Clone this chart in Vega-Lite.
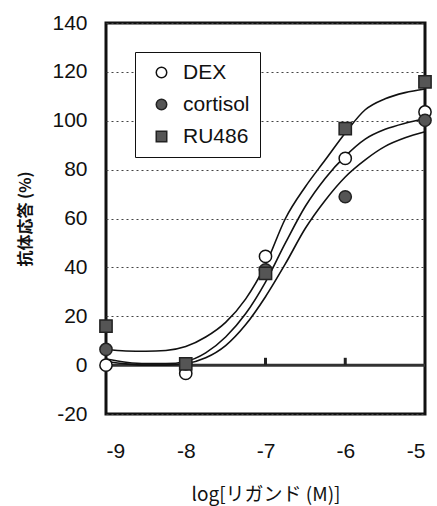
{
  "$schema": "https://vega.github.io/schema/vega-lite/v6.json",
  "autosize": "none",
  "padding": {"left": 106, "top": 23, "right": 12, "bottom": 92},
  "width": 319,
  "height": 391,
  "config": {
    "view": {"stroke": "#111", "strokeWidth": 3},
    "font": "Liberation Sans"
  },
  "datasets": {
    "points": [
      {"series": "DEX", "x": -9, "y": 0},
      {"series": "DEX", "x": -8, "y": -3.4},
      {"series": "DEX", "x": -7, "y": 44.5},
      {"series": "DEX", "x": -6, "y": 84.6},
      {"series": "DEX", "x": -5, "y": 103.6},
      {"series": "cortisol", "x": -9, "y": 6.4},
      {"series": "cortisol", "x": -8, "y": 0.5},
      {"series": "cortisol", "x": -7, "y": 39},
      {"series": "cortisol", "x": -6, "y": 68.9},
      {"series": "cortisol", "x": -5, "y": 100.2},
      {"series": "RU486", "x": -9, "y": 16},
      {"series": "RU486", "x": -8, "y": 0.5},
      {"series": "RU486", "x": -7, "y": 37.5},
      {"series": "RU486", "x": -6, "y": 96.8},
      {"series": "RU486", "x": -5, "y": 115.9}
    ],
    "curves": [
      {"curve": "A", "x": -9, "y": 6.4}, {"curve": "A", "x": -8.75, "y": 5.8}, {"curve": "A", "x": -8.5, "y": 5.7}, {"curve": "A", "x": -8.25, "y": 6.0}, {"curve": "A", "x": -8, "y": 7.6}, {"curve": "A", "x": -7.75, "y": 11.5}, {"curve": "A", "x": -7.5, "y": 17.5}, {"curve": "A", "x": -7.25, "y": 27}, {"curve": "A", "x": -7, "y": 41}, {"curve": "A", "x": -6.75, "y": 60}, {"curve": "A", "x": -6.5, "y": 73}, {"curve": "A", "x": -6.25, "y": 84}, {"curve": "A", "x": -6, "y": 95}, {"curve": "A", "x": -5.75, "y": 104.5}, {"curve": "A", "x": -5.5, "y": 109}, {"curve": "A", "x": -5.25, "y": 111.5}, {"curve": "A", "x": -5, "y": 113},
      {"curve": "B", "x": -9, "y": 2.5}, {"curve": "B", "x": -8.75, "y": 1.2}, {"curve": "B", "x": -8.5, "y": 0.6}, {"curve": "B", "x": -8.25, "y": 0.6}, {"curve": "B", "x": -8, "y": 1.5}, {"curve": "B", "x": -7.75, "y": 5}, {"curve": "B", "x": -7.5, "y": 11.5}, {"curve": "B", "x": -7.25, "y": 21}, {"curve": "B", "x": -7, "y": 34}, {"curve": "B", "x": -6.75, "y": 50}, {"curve": "B", "x": -6.5, "y": 65}, {"curve": "B", "x": -6.25, "y": 76.5}, {"curve": "B", "x": -6, "y": 85.5}, {"curve": "B", "x": -5.75, "y": 92.5}, {"curve": "B", "x": -5.5, "y": 96.5}, {"curve": "B", "x": -5.25, "y": 99}, {"curve": "B", "x": -5, "y": 100.8},
      {"curve": "C", "x": -9, "y": 1.5}, {"curve": "C", "x": -8.75, "y": 0.5}, {"curve": "C", "x": -8.5, "y": 0}, {"curve": "C", "x": -8.25, "y": 0}, {"curve": "C", "x": -8, "y": 0.6}, {"curve": "C", "x": -7.75, "y": 3}, {"curve": "C", "x": -7.5, "y": 8}, {"curve": "C", "x": -7.25, "y": 16.5}, {"curve": "C", "x": -7, "y": 28}, {"curve": "C", "x": -6.75, "y": 41.5}, {"curve": "C", "x": -6.5, "y": 56}, {"curve": "C", "x": -6.25, "y": 67.5}, {"curve": "C", "x": -6, "y": 77}, {"curve": "C", "x": -5.75, "y": 84}, {"curve": "C", "x": -5.5, "y": 89.5}, {"curve": "C", "x": -5.25, "y": 93}, {"curve": "C", "x": -5, "y": 95.5}
    ],
    "zero": [{"y": 0}],
    "ticks": [{"x": -8, "y": 0, "y2": 3}, {"x": -7, "y": 0, "y2": 3}, {"x": -6, "y": 0, "y2": 3}]
  },
  "layer": [
    {
      "data": {"name": "zero"},
      "mark": {"type": "rule", "stroke": "#333", "strokeWidth": 3},
      "encoding": {
        "y": {
          "field": "y", "type": "quantitative",
          "scale": {"domain": [-20, 140], "nice": false, "zero": false},
          "axis": {
            "values": [-20, 0, 20, 40, 60, 80, 100, 120, 140],
            "labelExpr": "datum.value + ''",
            "tickSize": 0, "domain": false,
            "labelFontSize": 21, "labelColor": "#111", "labelPadding": 19,
            "grid": true, "gridDash": [2, 3], "gridColor": "#444", "gridWidth": 1,
            "title": "抗体応答 (%)", "titleFont": "Noto Sans CJK JP", "titleFontSize": 16,
            "titleFontWeight": "bold", "titleColor": "#111", "titlePadding": 18
          }
        }
      }
    },
    {
      "data": {"name": "ticks"},
      "mark": {"type": "rule", "stroke": "#222", "strokeWidth": 3},
      "encoding": {
        "x": {"field": "x", "type": "quantitative"},
        "y": {"field": "y", "type": "quantitative"},
        "y2": {"field": "y2"}
      }
    },
    {
      "data": {"name": "curves"},
      "mark": {"type": "line", "interpolate": "monotone", "stroke": "#111", "strokeWidth": 1.6},
      "encoding": {
        "x": {"field": "x", "type": "quantitative"},
        "y": {"field": "y", "type": "quantitative"},
        "detail": {"field": "curve"}
      }
    },
    {
      "data": {"name": "points"},
      "mark": {"type": "point", "filled": true, "size": 150, "strokeWidth": 1.5, "opacity": 1},
      "encoding": {
        "x": {
          "field": "x", "type": "quantitative",
          "scale": {"domain": [-9, -5], "nice": false, "zero": false},
          "axis": {
            "values": [-9, -8, -7, -6, -5],
            "labelExpr": "datum.value + ''",
            "tickSize": 0, "domain": false, "grid": false,
            "labelFontSize": 21, "labelColor": "#111", "labelPadding": 26,
            "title": "log[リガンド (M)]", "titleFont": "Noto Sans CJK JP", "titleFontSize": 19,
            "titleFontWeight": "normal", "titleColor": "#111", "titlePadding": 24
          }
        },
        "y": {"field": "y", "type": "quantitative"},
        "shape": {
          "field": "series", "type": "nominal",
          "scale": {"domain": ["DEX", "cortisol", "RU486"], "range": ["circle", "circle", "square"]},
          "legend": {
            "title": null, "orient": "none", "legendX": 29, "legendY": 29,
            "padding": 10, "symbolOffset": 6, "symbolSize": 110, "symbolStrokeWidth": 1.5,
            "labelFontSize": 21, "labelColor": "#111", "labelOffset": 11, "rowPadding": 10,
            "labelExpr": "datum.label + '\u00a0\u00a0\u00a0'",
            "strokeColor": "#111", "fillColor": "#ffffff"
          }
        },
        "fill": {
          "field": "series", "type": "nominal",
          "scale": {"domain": ["DEX", "cortisol", "RU486"], "range": ["#ffffff", "#555555", "#555555"]},
          "legend": {
            "title": null, "orient": "none", "legendX": 29, "legendY": 29,
            "padding": 10, "symbolOffset": 6, "symbolSize": 110, "symbolStrokeWidth": 1.5,
            "labelFontSize": 21, "labelColor": "#111", "labelOffset": 11, "rowPadding": 10,
            "labelExpr": "datum.label + '\u00a0\u00a0\u00a0'",
            "strokeColor": "#111", "fillColor": "#ffffff"
          }
        },
        "stroke": {
          "field": "series", "type": "nominal",
          "scale": {"domain": ["DEX", "cortisol", "RU486"], "range": ["#111111", "#222222", "#222222"]},
          "legend": {
            "title": null, "orient": "none", "legendX": 29, "legendY": 29,
            "padding": 10, "symbolOffset": 6, "symbolSize": 110, "symbolStrokeWidth": 1.5,
            "labelFontSize": 21, "labelColor": "#111", "labelOffset": 11, "rowPadding": 10,
            "labelExpr": "datum.label + '\u00a0\u00a0\u00a0'",
            "strokeColor": "#111", "fillColor": "#ffffff"
          }
        }
      }
    }
  ]
}
